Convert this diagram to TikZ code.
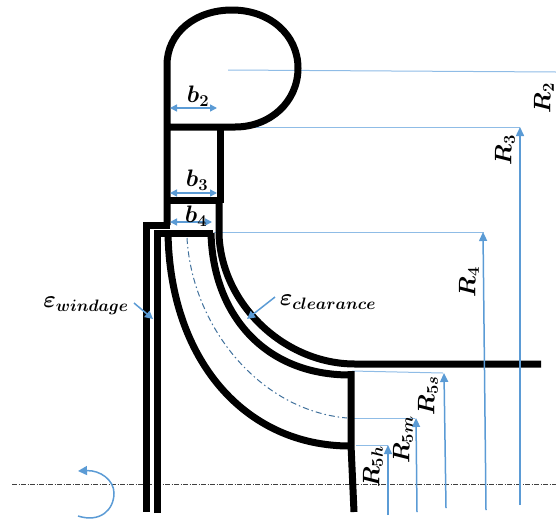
\documentclass[tikz,border=0pt]{standalone}
\usepackage{amsmath,bm}
\usetikzlibrary{arrows.meta}
\definecolor{ablue}{HTML}{5B9BD5}
\definecolor{tblue}{HTML}{8FBCE6}
\definecolor{mblue}{HTML}{41719C}
\tikzset{
 wall/.style={draw=black,line width=7pt,line join=miter},
 guide/.style={draw=tblue,line width=1pt},
 dim/.style={draw=ablue,line width=1.5pt,-{Triangle[width=8pt,length=9pt]}},
 ddim/.style={draw=ablue,line width=1.5pt,{Triangle[width=7pt,length=7pt]}-{Triangle[width=7pt,length=7pt]}},
 lab/.style={font=\fontsize{20}{22}\selectfont\boldmath,inner sep=0pt,scale=1.15,transform shape},
 rlab/.style={lab,rotate=90},
}
\begin{document}
\begin{tikzpicture}[x=1pt,y=-1pt]
\useasboundingbox (0,0) rectangle (556,520);
% axis
\coordinate (ax1) at (12,484); \coordinate (ax2) at (556,484);
\draw[black!75,line width=0.7pt,dash pattern=on 5pt off 1.5pt on 1pt off 1.5pt] (ax1) -- (ax2);
% guides
\draw[guide] (228,70) -- (556,72);
\draw[guide] (212,127) -- (520,127);
\draw[guide] (214,232) -- (484,232);
\draw[guide] (352,371) -- (443,373);
\draw[guide] (352,418) -- (415,418);
\draw[guide] (356,445) -- (388,445);
% walls
\draw[wall] (167,225) -- (167,65) .. controls (167,33) and (195,10) .. (232,10) .. controls (270,10) and (298,35) .. (298,68) .. controls (298,102) and (270,127) .. (235,127) -- (167,127);
\draw[wall] (220,127) -- (220,203);
\draw[wall] (164,200) -- (222,200);
\draw[wall] (219,200) -- (219,235) .. controls (222,305) and (285,364) .. (355,364) -- (541,364);
\draw[wall] (170,225) -- (146,225) -- (146,512);
\draw[wall] (157,513) -- (157,233) -- (213,233);
\draw[wall] (211,233) .. controls (213,315) and (265,375) .. (350,375);
\draw[wall] (168,233) .. controls (170,360) and (245,446) .. (350,446);
\draw[wall] (351,371) -- (351,445) -- (354,512);
% mean line
\draw[mblue,line width=1pt,dash pattern=on 6pt off 3pt on 1.5pt off 3pt] (187,238) .. controls (192,325) and (258,410) .. (347,418);
% dimension arrows
\draw[dim] (520,505) -- (520,127);
\draw[dim] (486,510) -- (483,232);
\draw[dim] (446,508) -- (444,373);
\draw[dim] (417,512) -- (416,418);
\draw[dim] (388,515) -- (388,445);
\draw[ddim] (170,108) -- (217,108);
\draw[ddim] (170,193) -- (217,193);
\draw[ddim] (170,222) -- (212,222);
\draw[ablue,line width=1.5pt,-{Triangle[width=8pt,length=8pt]}] (134,303) -- (153,319);
\draw[ablue,line width=1.5pt,-{Triangle[width=8pt,length=8pt]}] (275,297) -- (247,319);
\draw[ablue,line width=1.5pt,-{Triangle[width=9pt,length=9pt]}] (78,516) .. controls (100,523) and (114,510) .. (114,493) .. controls (114,480) and (100,470) .. (78,471);
% labels
\node[lab] (b2) at (198,96) {$\bm{b_2}$};
\node[lab] (b3) at (197,180) {$\bm{b_3}$};
\node[lab] (b4) at (196,216) {$\bm{b_4}$};
\node[lab] (ew) at (86,306) {$\bm{\varepsilon_{windage}}$};
\node[lab] (ec) at (328,302) {$\bm{\varepsilon_{clearance}}$};
\node[rlab] (r2) at (544,98) {$\bm{R_2}$};
\node[rlab] (r3) at (505,150) {$\bm{R_3}$};
\node[rlab] (r4) at (469,282) {$\bm{R_4}$};
\node[rlab] (r5s) at (428,396) {$\bm{R_{5s}}$};
\node[rlab] (r5m) at (403,440) {$\bm{R_{5m}}$};
\node[rlab] (r5h) at (373,467) {$\bm{R_{5h}}$};
\end{tikzpicture}
\end{document}
